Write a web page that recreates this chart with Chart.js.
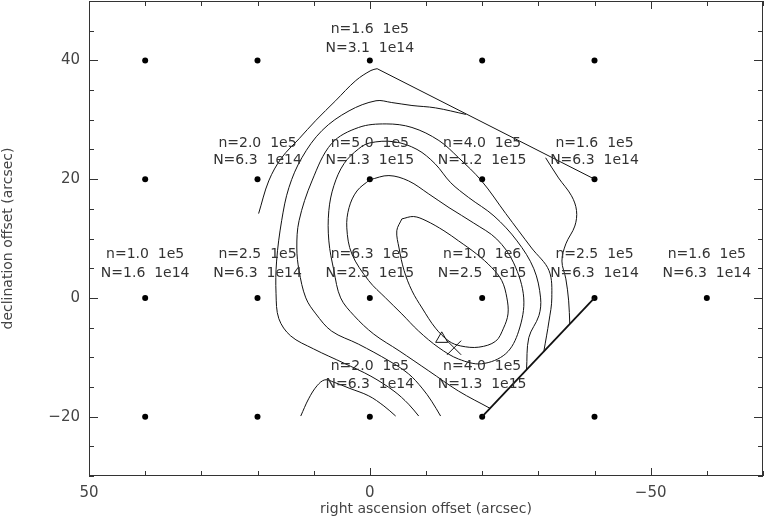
<!DOCTYPE html>
<html>
<head>
<meta charset="utf-8">
<script src="https://cdn.jsdelivr.net/npm/chart.js@4.4.1/dist/chart.umd.min.js"></script>
<style>
    html, body { margin: 0; padding: 0; background: #fff; }
    #wrap { width: 765px; height: 518px; }
</style>
</head>
<body>
<div id="wrap"><canvas id="myChart"></canvas></div>
<script>
// Observed positions (arcsec offsets)
const posX = [40, 20, 0, -20, -40,  40, 20, 0, -20, -40,  40, 20, 0, -20, -40, -60,  40, 20, 0, -20, -40];
const posY = [40, 40, 40, 40, 40,  20, 20, 20, 20, 20,  0, 0, 0, 0, 0, 0,  -20, -20, -20, -20, -20];

// Labelled positions and their texts
const labelX   = [0, 20, 0, -20, -40, 40, 20, 0, -20, -40, -60, 0, -20];
const labelRow = [40, 20, 20, 20, 20, 0, 0, 0, 0, 0, 0, -20, -20];
const densityText = [
    "n=1.6  1e5", "n=2.0  1e5", "n=5.0  1e5", "n=4.0  1e5", "n=1.6  1e5",
    "n=1.0  1e5", "n=2.5  1e5", "n=6.3  1e5", "n=1.0  1e6", "n=2.5  1e5", "n=1.6  1e5",
    "n=2.0  1e5", "n=4.0  1e5"
];
const columnText = [
    "N=3.1  1e14", "N=6.3  1e14", "N=1.3  1e15", "N=1.2  1e15", "N=6.3  1e14",
    "N=1.6  1e14", "N=6.3  1e14", "N=2.5  1e15", "N=2.5  1e15", "N=6.3  1e14", "N=6.3  1e14",
    "N=6.3  1e14", "N=1.3  1e15"
];
// text line heights (data units) for each row of labels
const textRows    = [40, 20, 0, -20];
const densityLineY = [45.2, 26.1, 7.4, -11.5];
const columnLineY  = [42.0, 23.1, 4.2, -14.5];

// Contours, traced from outermost to innermost
const contourAleft = [[19.8,14.2],[18.0,19.7],[15.7,23.6],[12.6,26.8],[9.6,29.9],[6.1,33.2],[2.5,36.6],[-0.2,38.3],[-1.3,38.6]];
const contourAright = [[-31.3,23.6],[-33.6,20.2],[-35.9,17.2],[-36.8,14.7],[-36.5,12.1],[-34.9,9.1],[-34.2,6.2],[-34.9,3.2],[-35.4,-0.5],[-35.6,-4.4]];
const contourB = [[-17.1,30.9],[-11.7,32.0],[-7.5,32.4],[-3.9,32.9],[-1.1,33.2],[3.7,31.5],[8.5,28.2],[12.1,23.6],[14.4,18.6],[15.7,13.0],[16.6,6.2],[16.7,0.7],[16.2,-3.5],[14.1,-6.4],[10.0,-8.6],[4.6,-11.0],[-0.2,-13.2],[-4.3,-15.7],[-6.9,-17.9],[-8.7,-19.9]];
const contourC = [[-12.6,-19.9],[-11.0,-17.4],[-9.3,-15.2],[-6.9,-12.8],[-3.4,-10.6],[2.0,-7.8],[6.8,-5.6],[9.6,-2.7],[11.4,0],[12.6,4.6],[13.0,8.4],[12.6,13.0],[10.3,19.7],[6.8,26.0],[2.0,28.7],[-2.9,29.3],[-7.5,28.7],[-12.3,26.5],[-15.8,23.6],[-19.9,19.7],[-24.2,14.2],[-28.8,8.4],[-31.9,4.6],[-32.4,0],[-31.9,-3.9],[-31.0,-8.9]];
const contourD = [[-21.4,-18.6],[-15.8,-15.7],[-10.5,-12.3],[-5.2,-8.9],[-0.7,-6.1],[2.8,-3.0],[5.2,0],[6.4,4.6],[7.3,9.6],[7.3,14.7],[6.4,18.9],[4.6,22.6],[2.0,25.1],[0,26.1],[-4.3,26.3],[-8.4,25.0],[-11.6,22.6],[-14.4,19.4],[-17.6,16.9],[-22.1,13.8],[-26.2,9.6],[-29.2,4.9],[-30.4,0],[-30.1,-3.0],[-28.3,-6.7],[-27.9,-12.1]];
const contourE2 = [[0,19.9],[-3.4,20.6],[-6.9,19.7],[-10.5,17.5],[-14.1,15.2],[-18.5,12.6],[-22.6,9.9],[-25.6,5.9],[-27.4,0],[-26.5,-5.6],[-24.2,-9.4],[-19.9,-11.1],[-15.8,-10.3],[-12.3,-8.4],[-8.7,-5.6],[-5.7,-2.7],[-2.8,0],[0.2,2.9],[3.2,7.4],[4.1,11.8],[3.7,15.2],[2.3,18.0],[0,19.9]];
const contourE = [[-5.7,13.3],[-7.8,13.7],[-10.0,13.0],[-13.2,11.3],[-15.8,9.6],[-19.0,7.4],[-21.7,5.1],[-23.5,2.9],[-24.4,0],[-24.6,-2.7],[-23.8,-5.1],[-22.4,-7.3],[-19.4,-8.3],[-16.2,-8.1],[-14.1,-7.3],[-11.7,-5.1],[-9.3,-1.7],[-7.5,1.2],[-6.1,4.6],[-5.2,8.4],[-4.8,11.3],[-5.7,13.3]];
const contourF = [[12.3,-19.9],[10.9,-17.0],[9.4,-14.8],[8.0,-13.8],[6.4,-14.2],[3.7,-15.2],[0.2,-16.5],[-2.5,-18.2],[-4.6,-19.9]];

// Map edges
const edgeTop = [[-1.3,38.6],[-40,20]];
const edgeDiag = [[-20,-20],[-40,0]];

// Markers
const triangleMark = [[-12.8,-6.9]];
const crossMark = [[-15.0,-8.4]];

// Axes
const xTicks = [50, 0, -50];
const yTicks = [-20, 0, 20, 40];
const xMinorStep = 10;
const yMinorStep = 5;

function toPts(arr) {
    return arr.map(p => ({ x: p[0], y: p[1] }));
}

function contourSet(arr, tension, width) {
    return {
        data: toPts(arr),
        showLine: true,
        borderColor: '#111',
        borderWidth: width || 1,
        pointRadius: 0,
        tension: tension,
        fill: false
    };
}

function minus(v) {
    return String(v).replace('-', '\u2212');
}

// frame, inward ticks on all four sides, and tick labels
const frameTicks = {
    id: 'frameTicks',
    afterDraw(chart) {
        const { ctx, chartArea: a, scales: { x, y } } = chart;
        ctx.save();
        ctx.strokeStyle = '#333';
        ctx.lineWidth = 1;
        ctx.strokeRect(a.left + 0.5, a.top + 0.5, a.right - a.left - 1, a.bottom - a.top - 1);
        ctx.beginPath();
        for (let v = x.min; v <= x.max; v += xMinorStep) {
            const px = Math.round(x.getPixelForValue(v)) + 0.5;
            const len = xTicks.includes(v) ? 8 : 5;
            ctx.moveTo(px, a.bottom); ctx.lineTo(px, a.bottom - len);
            ctx.moveTo(px, a.top); ctx.lineTo(px, a.top + len);
        }
        for (let v = y.min; v <= y.max; v += yMinorStep) {
            const py = Math.round(y.getPixelForValue(v)) + 0.5;
            const len = yTicks.includes(v) ? 9 : 5;
            ctx.moveTo(a.left, py); ctx.lineTo(a.left + len, py);
            ctx.moveTo(a.right, py); ctx.lineTo(a.right - len, py);
        }
        ctx.stroke();

        ctx.fillStyle = '#444';
        ctx.font = '15px "DejaVu Sans"';
        ctx.textBaseline = 'middle';
        ctx.textAlign = 'center';
        xTicks.forEach(v => ctx.fillText(minus(v), x.getPixelForValue(v), a.bottom + 17));
        ctx.textAlign = 'right';
        yTicks.forEach(v => ctx.fillText(minus(v), a.left - 9, y.getPixelForValue(v)));
        ctx.restore();
    }
};

const pointLabels = {
    id: 'pointLabels',
    afterDatasetsDraw(chart) {
        const { ctx, scales: { x, y } } = chart;
        ctx.save();
        ctx.font = '14px "DejaVu Sans"';
        ctx.fillStyle = '#333';
        ctx.textAlign = 'center';
        ctx.textBaseline = 'middle';
        labelX.forEach((lx, i) => {
            const row = textRows.indexOf(labelRow[i]);
            const px = x.getPixelForValue(lx);
            ctx.fillText(densityText[i], px, y.getPixelForValue(densityLineY[row]));
            ctx.fillText(columnText[i], px, y.getPixelForValue(columnLineY[row]));
        });
        ctx.restore();
    }
};

const ctx = document.getElementById('myChart').getContext('2d');
new Chart(ctx, {
    type: 'scatter',
    data: {
        datasets: [
            contourSet(contourAleft, 0.35),
            contourSet(contourAright, 0.35),
            contourSet(contourB, 0.35),
            contourSet(contourC, 0.35),
            contourSet(contourD, 0.35),
            contourSet(contourE2, 0.35),
            contourSet(contourE, 0.35),
            contourSet(contourF, 0.35),
            contourSet(edgeTop, 0, 1),
            contourSet(edgeDiag, 0, 1.8),
            {
                data: posX.map((v, i) => ({ x: v, y: posY[i] })),
                pointRadius: 3,
                pointBackgroundColor: '#000',
                pointBorderWidth: 0,
                showLine: false
            },
            {
                data: toPts(triangleMark),
                pointStyle: 'triangle',
                pointRadius: 7,
                pointBorderColor: '#111',
                pointBorderWidth: 1,
                pointBackgroundColor: 'rgba(0,0,0,0)',
                showLine: false
            },
            {
                data: toPts(crossMark),
                pointStyle: 'crossRot',
                pointRadius: 10,
                pointBorderColor: '#111',
                pointBorderWidth: 1,
                showLine: false
            }
        ]
    },
    options: {
        responsive: true,
        maintainAspectRatio: false,
        animation: false,
        events: [],
        layout: { autoPadding: false, padding: { top: 1, right: 2, left: 0, bottom: 0 } },
        plugins: {
            legend: { display: false },
            tooltip: { enabled: false }
        },
        scales: {
            x: {
                type: 'linear',
                reverse: true,
                min: -70,
                max: 50,
                grid: { display: false, drawTicks: false },
                border: { display: false },
                afterBuildTicks: s => { s.ticks = xTicks.map(v => ({ value: v })); },
                afterFit: s => { s.height = 42; },
                ticks: { display: false },
                title: {
                    display: true,
                    text: 'right ascension offset (arcsec)',
                    color: '#444',
                    font: { family: 'DejaVu Sans', size: 14 },
                    padding: 0
                }
            },
            y: {
                type: 'linear',
                min: -30,
                max: 50,
                grid: { display: false, drawTicks: false },
                border: { display: false },
                afterBuildTicks: s => { s.ticks = yTicks.map(v => ({ value: v })); },
                afterFit: s => { s.width = 89; },
                ticks: { display: false },
                title: {
                    display: true,
                    text: 'declination offset (arcsec)',
                    color: '#444',
                    font: { family: 'DejaVu Sans', size: 14 },
                    padding: 0
                }
            }
        }
    },
    plugins: [frameTicks, pointLabels]
});
</script>
</body>
</html>
